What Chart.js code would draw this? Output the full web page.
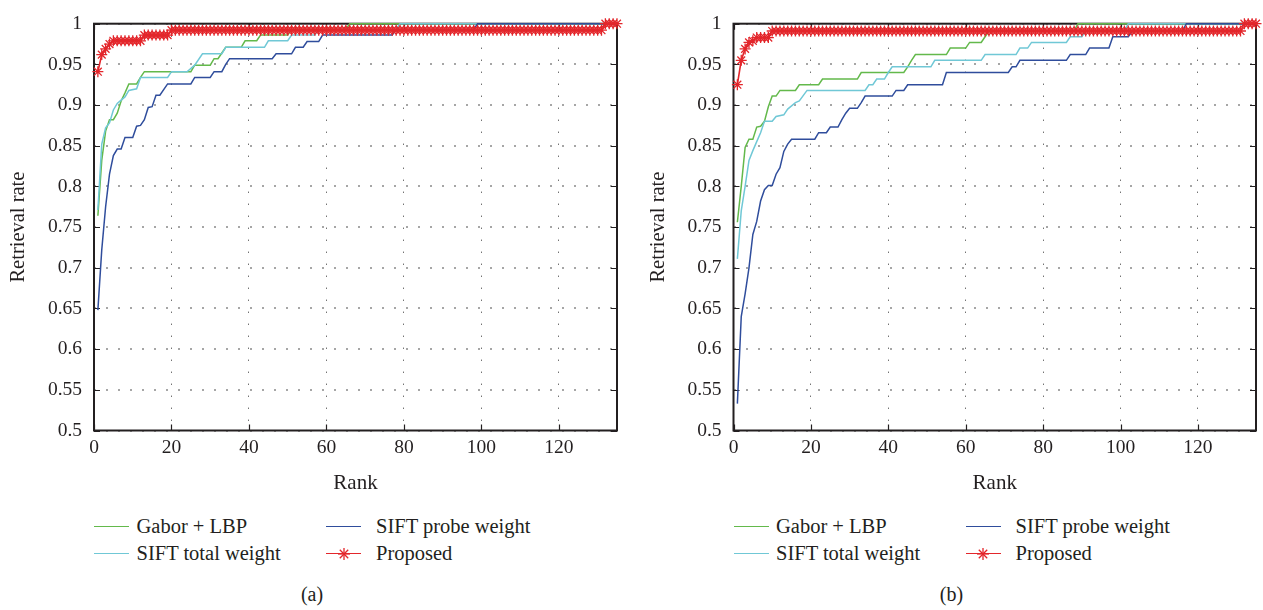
<!DOCTYPE html>
<html><head><meta charset="utf-8">
<script src="https://cdn.jsdelivr.net/npm/chart.js@4.4.1/dist/chart.umd.min.js"></script>
<style>
body{margin:0;background:#fff;width:1263px;height:610px;overflow:hidden;position:relative;font-family:'Liberation Serif','DejaVu Serif',serif;color:#231f20;}
canvas{position:absolute;top:0}
.leg{position:absolute;font-size:20.5px;line-height:24px;white-space:nowrap}
.sw{position:absolute;height:0}
.cap{position:absolute;font-size:20px;line-height:24px;width:100px;text-align:center}
</style></head><body>
<canvas id="ca" width="640" height="500" style="left:0"></canvas>
<canvas id="cb" width="623" height="500" style="left:640px"></canvas>
<div id="legends"></div>
<script>
// ---------- data ----------
const xTicks = [0,20,40,60,80,100,120];
const yTicks = [0.5,0.55,0.6,0.65,0.7,0.75,0.8,0.85,0.9,0.95,1];
const yTickLabels = ['0.5','0.55','0.6','0.65','0.7','0.75','0.8','0.85','0.9','0.95','1'];
const xMax = 135;
const seriesNames = ['Gabor + LBP','SIFT probe weight','SIFT total weight','Proposed'];
const seriesColors = ['#63b94b','#2f4d9c','#70c8d6','#e3262b'];
const captions = ['(a)','(b)'];

// (a) — [rank, retrieval rate] corner points
const gaborA = [[1,0.764],[2,0.832],[3,0.868],[4,0.882],[5,0.882],[6,0.890],[7,0.905],[8,0.915],[9,0.926],[11,0.926],[12,0.934],[13,0.941],[25,0.941],[26,0.949],[30,0.949],[31,0.957],[32,0.957],[33,0.964],[34,0.971],[38,0.971],[39,0.979],[42,0.979],[43,0.986],[50,0.986],[51,0.993],[65,0.993],[66,1],[135,1]];
const totalA = [[1,0.771],[2,0.852],[3,0.872],[4,0.878],[5,0.894],[6,0.902],[7,0.906],[8,0.910],[9,0.918],[11,0.920],[12,0.934],[19,0.934],[20,0.941],[24,0.941],[26,0.949],[28,0.963],[33,0.963],[34,0.971],[44,0.971],[45,0.979],[50,0.979],[51,0.986],[57,0.986],[58,0.993],[78,0.993],[79,1],[135,1]];
const probeA = [[1,0.648],[2,0.722],[3,0.775],[4,0.815],[5,0.838],[6,0.846],[7,0.846],[8,0.860],[10,0.860],[11,0.874],[12,0.875],[13,0.882],[14,0.897],[15,0.898],[16,0.912],[17,0.912],[19,0.926],[25,0.926],[26,0.934],[30,0.934],[31,0.941],[33,0.941],[34,0.950],[35,0.957],[46,0.957],[47,0.963],[51,0.963],[52,0.971],[54,0.971],[55,0.978],[58,0.978],[59,0.986],[77,0.986],[78,0.993],[98,0.993],[99,1],[135,1]];
// Proposed (a): one value per rank 1..135
const proposedA = [
0.941,0.962,0.969,0.975,0.979,0.979,0.979,0.979,0.979,0.979,
0.979,0.979,0.986,0.986,0.986,0.986,0.986,0.986,0.986,0.992,
0.992,0.992,0.992,0.992,0.992,0.992,0.992,0.992,0.992,0.992,
0.992,0.992,0.992,0.992,0.992,0.992,0.992,0.992,0.992,0.992,
0.992,0.992,0.992,0.992,0.992,0.992,0.992,0.992,0.992,0.992,
0.992,0.992,0.992,0.992,0.992,0.992,0.992,0.992,0.992,0.992,
0.992,0.992,0.992,0.992,0.992,0.992,0.992,0.992,0.992,0.992,
0.992,0.992,0.992,0.992,0.992,0.992,0.992,0.992,0.992,0.992,
0.992,0.992,0.992,0.992,0.992,0.992,0.992,0.992,0.992,0.992,
0.992,0.992,0.992,0.992,0.992,0.992,0.992,0.992,0.992,0.992,
0.992,0.992,0.992,0.992,0.992,0.992,0.992,0.992,0.992,0.992,
0.992,0.992,0.992,0.992,0.992,0.992,0.992,0.992,0.992,0.992,
0.992,0.992,0.992,0.992,0.992,0.992,0.992,0.992,0.992,0.992,
0.992,1,1,1,1];

// (b)
const gaborB = [[1,0.756],[2,0.800],[3,0.848],[4,0.858],[5,0.858],[6,0.873],[7,0.874],[8,0.880],[9,0.898],[10,0.911],[11,0.911],[12,0.918],[16,0.918],[17,0.925],[22,0.925],[23,0.932],[32,0.932],[33,0.940],[44,0.940],[45,0.947],[46,0.955],[47,0.962],[55,0.962],[56,0.970],[60,0.970],[61,0.977],[64,0.977],[65,0.984],[66,0.991],[88,0.991],[89,1],[135,1]];
const totalB = [[1,0.711],[2,0.770],[3,0.800],[4,0.832],[5,0.844],[6,0.855],[7,0.866],[8,0.880],[10,0.880],[11,0.886],[13,0.888],[14,0.895],[16,0.903],[17,0.905],[19,0.918],[34,0.918],[35,0.925],[36,0.925],[37,0.932],[39,0.932],[40,0.940],[41,0.947],[51,0.947],[52,0.955],[64,0.955],[65,0.962],[73,0.962],[74,0.970],[76,0.970],[77,0.977],[86,0.977],[87,0.984],[90,0.984],[91,0.991],[101,0.991],[102,1],[135,1]];
const probeB = [[1,0.533],[2,0.640],[3,0.668],[4,0.700],[5,0.741],[6,0.757],[7,0.782],[8,0.796],[9,0.801],[10,0.801],[11,0.815],[12,0.823],[13,0.843],[14,0.852],[15,0.858],[21,0.858],[22,0.866],[24,0.866],[25,0.873],[27,0.873],[28,0.882],[29,0.890],[30,0.896],[32,0.896],[33,0.903],[34,0.911],[41,0.911],[42,0.918],[44,0.918],[45,0.925],[54,0.925],[55,0.940],[71,0.940],[72,0.947],[73,0.947],[74,0.955],[86,0.955],[87,0.962],[91,0.962],[92,0.970],[97,0.970],[98,0.984],[102,0.984],[103,0.991],[116,0.991],[117,1],[135,1]];
const proposedB = [
0.925,0.955,0.969,0.977,0.979,0.983,0.983,0.983,0.983,0.991,
0.991,0.991,0.991,0.991,0.991,0.991,0.991,0.991,0.991,0.991,
0.991,0.991,0.991,0.991,0.991,0.991,0.991,0.991,0.991,0.991,
0.991,0.991,0.991,0.991,0.991,0.991,0.991,0.991,0.991,0.991,
0.991,0.991,0.991,0.991,0.991,0.991,0.991,0.991,0.991,0.991,
0.991,0.991,0.991,0.991,0.991,0.991,0.991,0.991,0.991,0.991,
0.991,0.991,0.991,0.991,0.991,0.991,0.991,0.991,0.991,0.991,
0.991,0.991,0.991,0.991,0.991,0.991,0.991,0.991,0.991,0.991,
0.991,0.991,0.991,0.991,0.991,0.991,0.991,0.991,0.991,0.991,
0.991,0.991,0.991,0.991,0.991,0.991,0.991,0.991,0.991,0.991,
0.991,0.991,0.991,0.991,0.991,0.991,0.991,0.991,0.991,0.991,
0.991,0.991,0.991,0.991,0.991,0.991,0.991,0.991,0.991,0.991,
0.991,0.991,0.991,0.991,0.991,0.991,0.991,0.991,0.991,0.991,
0.991,1,1,1,1];

// ---------- chart ----------
const FONT = "'Liberation Serif','DejaVu Serif',serif";
const INK = '#231f20';

const framePlugin = {
  id: 'frame',
  beforeDatasetsDraw(chart) {
    const {ctx, chartArea: a, scales: {x, y}} = chart;
    ctx.save();
    ctx.strokeStyle = INK;
    ctx.lineWidth = 1.2;
    ctx.beginPath();
    x.ticks.forEach(t => {
      const px = Math.round(x.getPixelForValue(t.value)) + 0.5;
      ctx.moveTo(px, a.bottom); ctx.lineTo(px, a.bottom - 6);
      ctx.moveTo(px, a.top); ctx.lineTo(px, a.top + 6);
    });
    y.ticks.forEach(t => {
      const py = Math.round(y.getPixelForValue(t.value)) + 0.5;
      ctx.moveTo(a.left, py); ctx.lineTo(a.left + 6, py);
      ctx.moveTo(a.right, py); ctx.lineTo(a.right - 6, py);
    });
    ctx.stroke();
    ctx.lineWidth = 2;
    ctx.strokeRect(a.left, a.top, a.right - a.left, a.bottom - a.top);
    ctx.restore();
  }
};

function pts(arr) { return arr.map(p => ({x: p[0], y: p[1]})); }

function makeChart(id, gabor, probe, total, proposed, yWidth, padRight) {
  const lineDs = (label, data, color, order) => ({
    label, data: pts(data), borderColor: color, backgroundColor: color,
    borderWidth: 1.5, pointRadius: 0, showLine: true, tension: 0, order, clip: 8
  });
  return new Chart(document.getElementById(id), {
    type: 'scatter',
    data: {
      datasets: [
        lineDs(seriesNames[0], gabor, seriesColors[0], 3),
        lineDs(seriesNames[1], probe, seriesColors[1], 1),
        lineDs(seriesNames[2], total, seriesColors[2], 2),
        {
          label: seriesNames[3],
          data: proposed.map((v, i) => ({x: i + 1, y: v})),
          borderColor: seriesColors[3], backgroundColor: seriesColors[3],
          borderWidth: 1.6, showLine: true, tension: 0, order: 0, clip: 8,
          pointStyle: 'star', pointRadius: 5.5, pointBorderWidth: 1.3,
          pointBorderColor: seriesColors[3], pointHoverRadius: 5.5
        }
      ]
    },
    options: {
      responsive: false, animation: false, devicePixelRatio: 1,
      layout: {padding: {top: 17.5, right: padRight, left: 0, bottom: 0}},
      plugins: {legend: {display: false}, tooltip: {enabled: false}},
      scales: {
        x: {
          type: 'linear', min: 0, max: xMax,
          afterBuildTicks: s => { s.ticks = xTicks.map(v => ({value: v})); },
          afterFit: s => { s.height = 69.5; },
          grid: {color: '#333', lineWidth: 1, drawTicks: false},
          border: {display: false, dash: [1, 11]},
          ticks: {padding: 6, color: INK, font: {family: FONT, size: 19.5}, maxRotation: 0,
                  callback: v => String(v)},
          title: {display: true, text: 'Rank', color: INK, font: {family: FONT, size: 21},
                  padding: {top: 0, bottom: 4}}
        },
        y: {
          type: 'linear', min: 0.5, max: 1,
          afterBuildTicks: s => { s.ticks = yTicks.map(v => ({value: v})); },
          afterFit: s => { s.width = yWidth; },
          grid: {color: '#a6a6a6', lineWidth: 2, drawTicks: false},
          border: {display: false, dash: [2, 10]},
          ticks: {padding: 12, color: INK, font: {family: FONT, size: 19.5},
                  callback: (v, i) => yTickLabels[i]},
          title: {display: true, text: 'Retrieval rate', color: INK, font: {family: FONT, size: 20.5},
                  padding: {top: 6.5, bottom: 0}}
        }
      }
    },
    plugins: [framePlugin]
  });
}

makeChart('ca', gaborA, probeA, totalA, proposedA, 94, 23);
makeChart('cb', gaborB, probeB, totalB, proposedB, 93.5, 7);

// ---------- legends (HTML) ----------
const legRoot = document.getElementById('legends');
function starSvg(color) {
  return '<svg width="14" height="14" viewBox="-7 -7 14 14" style="position:absolute;left:-7px;top:-7px">' +
    '<g stroke="' + color + '" stroke-width="1.3"><line x1="0" y1="-6" x2="0" y2="6"/><line x1="-6" y1="0" x2="6" y2="0"/>' +
    '<line x1="-4.2" y1="-4.2" x2="4.2" y2="4.2"/><line x1="-4.2" y1="4.2" x2="4.2" y2="-4.2"/></g></svg>';
}
function addLegend(off, capIdx) {
  // grid: [col, row] per series (order: Gabor, probe, total, proposed)
  const cells = [[0,0],[1,0],[0,1],[1,1]];
  const lineX = [94, 326], lineW = 35, textX = [136.5, 376];
  const lineY = [527, 553.5], textTop = [514.4, 541.1];
  seriesNames.forEach((name, i) => {
    const [c, r] = cells[i];
    const sw = document.createElement('div');
    sw.className = 'sw';
    sw.style.left = (off + lineX[c]) + 'px';
    sw.style.top = (lineY[r] - 0.75) + 'px';
    sw.style.width = lineW + 'px';
    sw.style.borderTop = '1.5px solid ' + seriesColors[i];
    if (i === 3) {
      const holder = document.createElement('div');
      holder.style.cssText = 'position:absolute;left:' + (lineW / 2) + 'px;top:0px';
      holder.innerHTML = starSvg(seriesColors[i]);
      sw.appendChild(holder);
    }
    legRoot.appendChild(sw);
    const t = document.createElement('div');
    t.className = 'leg';
    t.style.left = (off + textX[c]) + 'px';
    t.style.top = textTop[r] + 'px';
    t.textContent = name;
    legRoot.appendChild(t);
  });
  const cap = document.createElement('div');
  cap.className = 'cap';
  cap.style.left = (off + 312 - 50) + 'px';
  cap.style.top = '581.5px';
  cap.textContent = captions[capIdx];
  legRoot.appendChild(cap);
}
addLegend(0, 0);
addLegend(639.5, 1);
</script>
</body></html>
